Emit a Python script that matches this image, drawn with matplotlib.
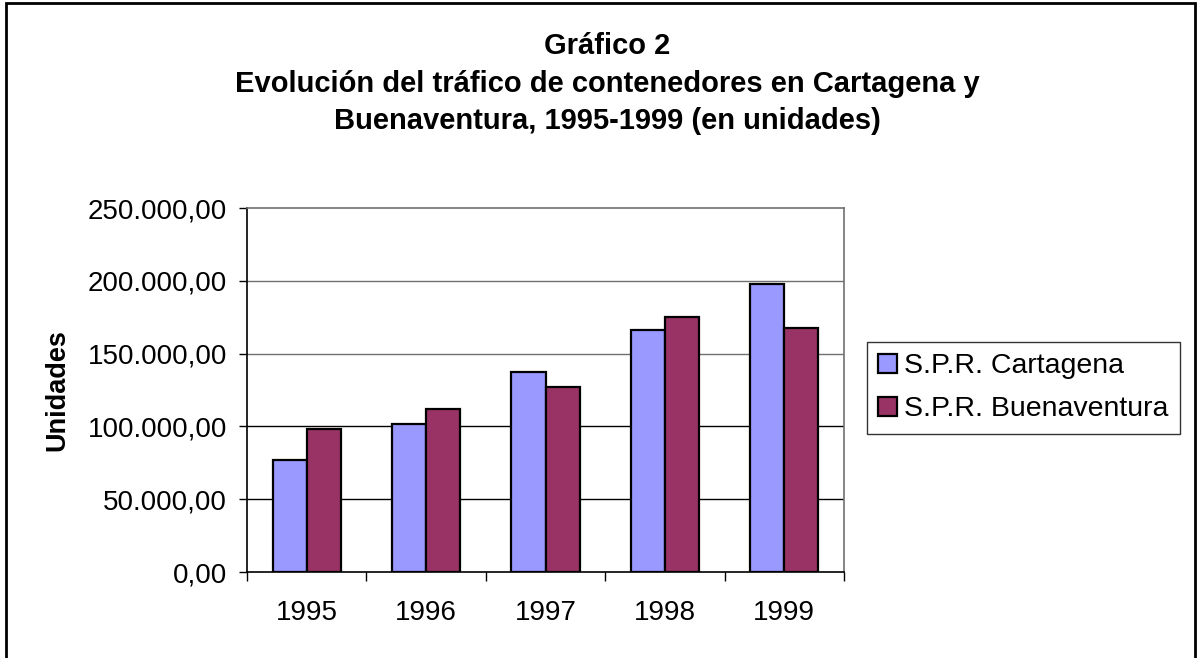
import matplotlib.pyplot as plt
import numpy as np
from matplotlib.patches import Rectangle
from matplotlib.ticker import FuncFormatter, FixedLocator

plt.rcParams['font.family'] = ['Liberation Sans', 'DejaVu Sans']

years = ['1995', '1996', '1997', '1998', '1999']
cartagena = [77000, 101500, 137700, 166500, 198100]
buenaventura = [98300, 112000, 127100, 175400, 167900]
yticks = [0, 50000, 100000, 150000, 200000, 250000]


def es_fmt(v, pos):
    # 250000 -> 250.000,00
    s = '{:,.2f}'.format(v)
    return s.replace(',', 'X').replace('.', ',').replace('X', '.')


W, H = 1198, 658
fig = plt.figure(figsize=(W / 100, H / 100), dpi=100)
ax = fig.add_axes([247 / W, 1 - 572 / H, 597 / W, 364 / H])

x = np.arange(len(years))
w = 1 / 3.5
ax.bar(x - w / 2, cartagena, w, color='#9999ff', edgecolor='black',
       linewidth=1.6, label='S.P.R. Cartagena', zorder=3)
ax.bar(x + w / 2, buenaventura, w, color='#993366', edgecolor='black',
       linewidth=1.6, label='S.P.R. Buenaventura', zorder=3)

ax.set_xlim(-0.5, len(years) - 0.5)
ax.set_ylim(yticks[0], yticks[-1])
ax.set_yticks(yticks)
ax.yaxis.set_major_formatter(FuncFormatter(es_fmt))
for v in yticks[1:-1]:
    ax.axhline(v, color='#707070' if v >= 150000 else 'black',
               linewidth=1, zorder=1)
ax.set_xticks(x)
ax.set_xticklabels(years)
ax.xaxis.set_minor_locator(FixedLocator(np.arange(-0.5, len(years), 1)))
ax.tick_params(axis='x', which='major', length=0, pad=20, labelsize=20)
ax.tick_params(axis='x', which='minor', length=6.5, width=1, direction='out')
ax.tick_params(axis='y', length=5.5, width=1, direction='out', pad=9,
               labelsize=20)

ax.spines['left'].set_color('black')
ax.spines['bottom'].set_color('black')
ax.spines['top'].set_color('#707070')
ax.spines['right'].set_color('#707070')
for sp in ax.spines.values():
    sp.set_linewidth(1.2)

fig.text(57 / W, 1 - 390 / H, 'Unidades', rotation=90, ha='center',
         va='center', fontsize=19.5, fontweight='bold')

title_lines = ['Gráfico 2',
               'Evolución del tráfico de contenedores en Cartagena y',
               'Buenaventura, 1995-1999 (en unidades)']
for yy, t in zip([46, 84, 121], title_lines):
    fig.text(607 / W, 1 - yy / H, t, ha='center', va='center',
             fontsize=21, fontweight='bold')

leg = fig.legend(loc='upper left', bbox_to_anchor=(867 / W, 1 - 342 / H),
                 fontsize=20.5, frameon=True, fancybox=False, edgecolor='black',
                 handlelength=0.65, handleheight=0.65, handletextpad=0.25,
                 borderpad=0.4, labelspacing=0.6, borderaxespad=0)
leg.get_frame().set_linewidth(1)

fig.patches.append(Rectangle((6 / W, -0.01), 1189 / W, 1.01 - 3 / H,
                             transform=fig.transFigure, fill=False,
                             edgecolor='black', linewidth=2))

fig.savefig('out.png', dpi=100)
